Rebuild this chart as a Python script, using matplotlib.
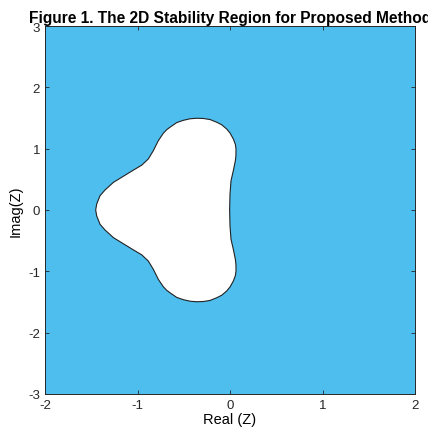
import matplotlib
matplotlib.use("Agg")
import matplotlib.pyplot as plt
import numpy as np

# boundary of the unstable (white) region, upper half
re_upper = [-1.452, -1.441, -1.405, -1.351, -1.261, -1.153, -1.045, -0.955,
            -0.883, -0.829, -0.775, -0.721, -0.684, -0.649, -0.576, -0.505,
            -0.432, -0.360, -0.289, -0.216, -0.144, -0.090, -0.036, 0.000,
            0.036, 0.058, 0.065, 0.064, 0.058, 0.036, 0.011, 0.000, -0.004]
im_upper = [0.000, 0.098, 0.233, 0.326, 0.450, 0.550, 0.650, 0.730,
            0.832, 0.967, 1.130, 1.251, 1.310, 1.349, 1.425, 1.462,
            1.487, 1.496, 1.492, 1.475, 1.431, 1.390, 1.321, 1.255,
            1.158, 1.070, 0.995, 0.886, 0.804, 0.641, 0.478, 0.261, 0.000]

# region is symmetric about the real axis
re_b = np.array(re_upper + re_upper[::-1][1:])
im_b = np.array(im_upper + [-v for v in im_upper[::-1][1:]])

xlim = (-2, 2)
ylim = (-3, 3)
stable_color = "#4DBEEE"

plt.rcParams['font.family'] = ['Liberation Sans', 'DejaVu Sans']
plt.rcParams['axes.unicode_minus'] = False

fig = plt.figure(figsize=(4.28, 4.35), dpi=100)
ax = fig.add_axes([45 / 428, 40 / 435, 370 / 428, 368 / 435])

ax.set_facecolor(stable_color)
ax.fill(re_b, im_b, facecolor="white", edgecolor="#222222", lw=0.8,
        joinstyle="round", zorder=2)

ax.set_xlim(*xlim)
ax.set_ylim(*ylim)
ax.set_xticks([-2, -1, 0, 1, 2])
ax.set_yticks([-3, -2, -1, 0, 1, 2, 3])
ax.tick_params(direction="in", length=3, width=0.6, top=True, right=True,
               labelsize=9.5, colors="#262626")
for s in ax.spines.values():
    s.set_linewidth(0.7)
    s.set_color("#262626")

ax.set_xlabel("Real (Z)", fontsize=10.5, labelpad=1)
ax.set_ylabel("Imag(Z)", fontsize=10.5, labelpad=4)
ax.set_title("Figure 1. The 2D Stability Region for Proposed Method",
             fontsize=11.2, fontweight="bold", pad=3)

fig.savefig("out.png", dpi=100)
